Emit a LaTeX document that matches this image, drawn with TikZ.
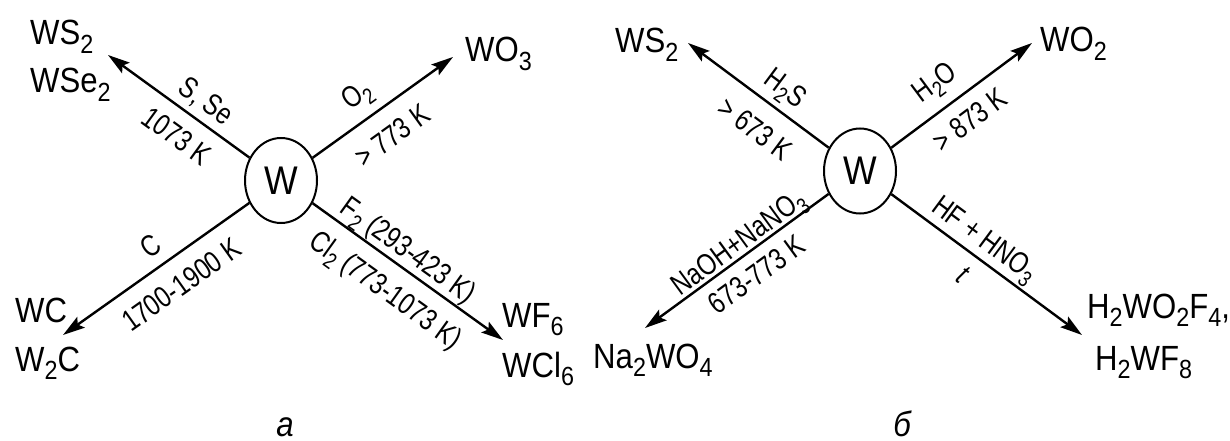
\documentclass[tikz,border=0pt]{standalone}
\usepackage{fontspec}
\setmainfont[FakeStretch=0.89]{Liberation Sans}
\newfontfamily\lblfont[FakeStretch=0.8]{Liberation Sans}
\usepackage{graphicx}
\usetikzlibrary{arrows.meta,shapes.geometric}
\newcommand\sbs[1]{\raisebox{-0.24em}{\scalebox{0.75}{#1}}}
\begin{document}
\begin{tikzpicture}[x=1pt,y=-1pt,
  big/.style={font=\fontsize{35}{40}\selectfont, inner sep=0pt, anchor=base west},
  captext/.style={font=\fontsize{35}{40}\selectfont\itshape, inner sep=0pt, anchor=base},
  lbl/.style={font=\lblfont\fontsize{30}{33}\selectfont, inner sep=0pt, text height=21pt, text depth=0pt, sloped},
  arr/.style={line width=2.4pt, -{Stealth[length=22pt,width=13pt,inset=4pt]}},
  core/.style={ellipse, draw, line width=2pt, minimum width=72pt, minimum height=85pt, inner sep=0pt, font=\fontsize{40}{44}\selectfont}]
\useasboundingbox (0,0) rectangle (1230,441);

% ---------- left diagram ----------
\node[core] (Wa) at (281,180.5) {W};
\node[big] (ws2a) at (30,45) {WS\sbs{2}};
\node[big] (wse2) at (30,93) {WSe\sbs{2}};
\node[big] (wo3) at (465,62) {WO\sbs{3}};
\node[big] (wc) at (15,322) {WC};
\node[big] (w2c) at (15,371) {W\sbs{2}C};
\node[big] (wf6) at (502,327) {WF\sbs{6}};
\node[big] (wcl6) at (502,377) {WCl\sbs{6}};
\node[captext] (capa) at (285,436) {а};

\coordinate (ta1) at (108,55);
\coordinate (ta2) at (453,57);
\coordinate (ta3) at (63,335);
\coordinate (ta4) at (503,340);

\draw[arr] (Wa) -- node[lbl,pos=.39,above=9.5pt] (la1) {S, Se}
                   node[lbl,pos=.41,below=13.5pt] (la1b) {1073 K} (ta1);
\draw[arr] (Wa) -- node[lbl,pos=.42,above=15.5pt] (la2) {O\sbs{2}}
                   node[lbl,pos=.45,below=16.5pt] (la2b) {\textgreater{} 773 K} (ta2);
\draw[arr] (Wa) -- node[lbl,pos=.46,above=10.3pt] (la3) {C}
                   node[lbl,pos=.45,below=15.5pt] (la3b) {1700-1900 K} (ta3);
\draw[arr] (Wa) -- node[lbl,pos=.45,above=7pt] (la4) {F\sbs{2} (293-423 K)}
                   node[lbl,pos=.47,below=15pt] (la4b) {Cl\sbs{2} (773-1073 K)} (ta4);

% ---------- right diagram ----------
\node[core] (Wb) at (860,171) {W};
\node[big] (ws2b) at (615,53) {WS\sbs{2}};
\node[big] (wo2) at (1040,52) {WO\sbs{2}};
\node[big] (na2wo4) at (593,368) {Na\sbs{2}WO\sbs{4}};
\node[big] (h2wo2f4) at (1087,318) {H\sbs{2}WO\sbs{2}F\sbs{4},};
\node[big] (h2wf8) at (1095,370) {H\sbs{2}WF\sbs{8}};
\node[captext] (capb) at (902,436) {б};

\coordinate (tb1) at (688,43);
\coordinate (tb2) at (1032,43);
\coordinate (tb3) at (645,328);
\coordinate (tb4) at (1082,335);

\draw[arr] (Wb) -- node[lbl,pos=.40,above=11.5pt] (lb1) {H\sbs{2}S}
                   node[lbl,pos=.40,below=17pt] (lb1b) {\textgreater{} 673 K} (tb1);
\draw[arr] (Wb) -- node[lbl,pos=.42,above=16.4pt] (lb2) {H\sbs{2}O}
                   node[lbl,pos=.455,below=13pt] (lb2b) {\textgreater{} 873 K} (tb2);
\draw[arr] (Wb) -- node[lbl,pos=.446,above=3pt] (lb3) {NaOH+NaNO\sbs{3}}
                   node[lbl,pos=.465,below=10.5pt] (lb3b) {673-773 K} (tb3);
\draw[arr] (Wb) -- node[lbl,pos=.43,above=9pt] (lb4) {HF + HNO\sbs{3}}
                   node[lbl,pos=.445,below=10pt] (lb4b) {\textit{t}} (tb4);
\end{tikzpicture}
\end{document}
